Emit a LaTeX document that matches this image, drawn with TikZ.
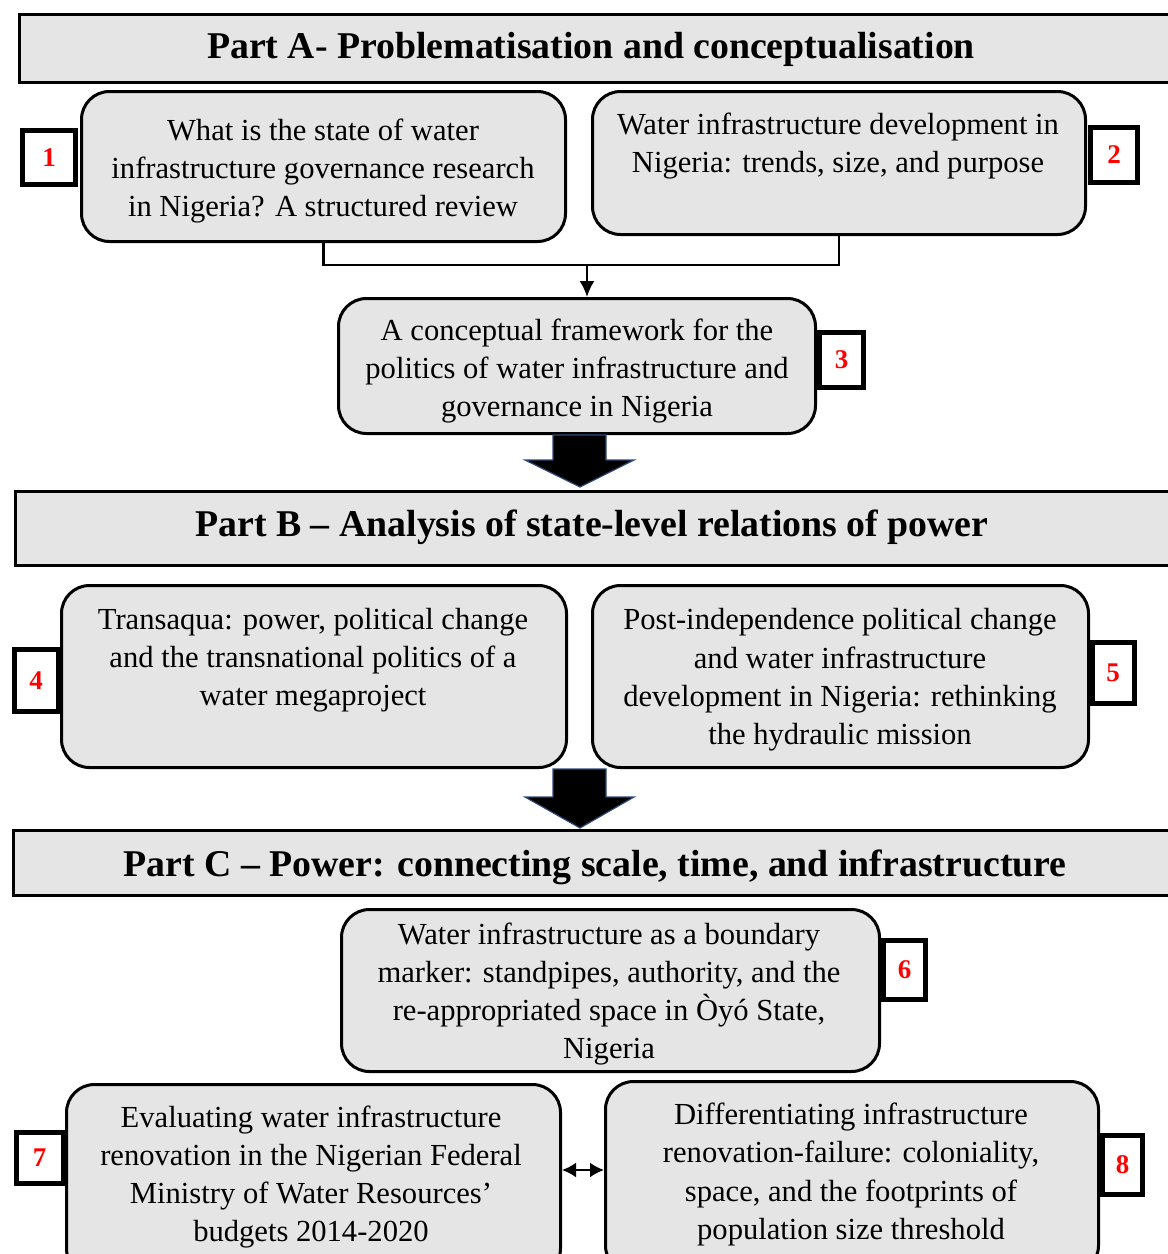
\documentclass[tikz,border=0pt]{standalone}
\usepackage{fontspec}
\setmainfont{Liberation Serif}
\usetikzlibrary{arrows.meta,calc}
\begin{document}
\begin{tikzpicture}[x=1pt,y=-1pt,
  panel/.style={draw=black,line width=3pt,rounded corners=28pt,fill=gray!20,inner sep=0pt},
  header/.style={draw=black,line width=3pt,fill=gray!20},
  htext/.style={font=\fontsize{37.8}{42}\selectfont\bfseries},
  txt/.style={align=center,inner sep=0pt,font=\fontsize{30.6}{38.3}\selectfont},
  numbox/.style={draw=black,line width=5pt,fill=white,inner sep=0pt,
    text=red,font=\fontsize{27}{30}\selectfont\bfseries},
  blockarrow/.style={fill=black,draw={rgb,255:red,47;green,74;blue,122},line width=1.2pt,line join=miter},
  link/.style={line width=2.2pt}
]
\clip (0,0) rectangle (1168,1254);
\fill[white] (0,0) rectangle (1168,1254);

% ---------- Part A ----------
\draw[header] (19.5,14.5) rectangle (1175,82.5);
\node[htext] (hA) at (591,49) {Part A- Problematisation  and  conceptualisation};

\node[panel,minimum width=484pt,minimum height=150pt] (b1) at (323.5,166.5) {};
\node[txt] (t1) at (323,171) {What is the state of water\\infrastructure governance research\\in Nigeria? A structured review};
\node[numbox,minimum width=53pt,minimum height=54pt] (n1) at (49,157.5) {1};

\node[panel,minimum width=493pt,minimum height=143pt] (b2) at (839,163) {};
\node[txt] (t2) at (838,146) {Water infrastructure development in\\Nigeria:  trends, size, and purpose};
\node[numbox,minimum width=47pt,minimum height=55pt] (n2) at (1114,155) {2};

\coordinate (j1) at (323.5,265);
\coordinate (j2) at (587,265);
\draw[link,line join=miter] (b1.south) -- (j1) -| (b2.south);

\node[panel,minimum width=477pt,minimum height=135pt] (b3) at (577,366) {};
\node[txt] (t3) at (577,371) {A conceptual framework  for the\\politics of water infrastructure and\\governance  in Nigeria};
\node[numbox,minimum width=44pt,minimum height=55pt] (n3) at (841.5,360) {3};

\draw[link,-{Latex[length=16pt,width=15pt]}] (j2) -- (j2 |- b3.north);

% ---------- Part B ----------
\draw[header] (15.5,491.5) rectangle (1175,565.5);
\node[htext] (hB) at (592,527) {Part B -- Analysis  of state-level relations of power};

\coordinate (a1) at (580,435);
\draw[blockarrow] ($(a1)+(-27,0)$) -- ($(a1)+(26,0)$) -- ($(a1)+(26,25)$) -- ($(a1)+(54,25)$)
  -- ($(a1)+(0,52)$) -- ($(a1)+(-55,25)$) -- ($(a1)+(-27,25)$) -- cycle;

\node[panel,minimum width=505pt,minimum height=182pt] (b4) at (314,676.5) {};
\node[txt] (t4) at (313,660) {Transaqua: power, political change\\and the transnational politics of a\\water megaproject};
\node[numbox,minimum width=44pt,minimum height=62pt] (n4) at (36,680.5) {4};

\node[panel,minimum width=496pt,minimum height=182pt] (b5) at (840.5,676.5) {};
\node[txt] (t5) at (840,680) {Post-independence political change\\and water infrastructure\\development in Nigeria:  rethinking\\the hydraulic mission};
\node[numbox,minimum width=42pt,minimum height=61pt] (n5) at (1113,673) {5};

% ---------- Part C ----------
\coordinate (a2) at (580,769);
\draw[blockarrow] ($(a2)+(-27,0)$) -- ($(a2)+(26,0)$) -- ($(a2)+(26,28)$) -- ($(a2)+(54,28)$)
  -- ($(a2)+(0,59)$) -- ($(a2)+(-55,28)$) -- ($(a2)+(-27,28)$) -- cycle;

\draw[header] (13.5,830.5) rectangle (1175,895.5);
\node[htext] (hC) at (595,867) {Part C -- Power: connecting scale, time, and infrastructure};

\node[panel,minimum width=538pt,minimum height=162pt] (b6) at (610.5,990.5) {};
\node[txt] (t6) at (609,994) {Water infrastructure as a boundary\\marker:  standpipes, authority, and the\\re-appropriated space in Òyó  State,\\Nigeria};
\node[numbox,minimum width=42pt,minimum height=59pt] (n6) at (904.5,970) {6};

\node[panel,minimum width=494pt,minimum height=192pt] (b7) at (313.5,1180.5) {};
\node[txt] (t7) at (311,1177) {Evaluating water infrastructure\\renovation in the Nigerian  Federal\\Ministry  of Water Resources’\\budgets 2014-2020};
\node[numbox,minimum width=47pt,minimum height=51pt] (n7) at (39.5,1158) {7};

\node[panel,minimum width=493pt,minimum height=192pt] (b8) at (852,1177.5) {};
\node[txt] (t8) at (851,1174.5) {Differentiating  infrastructure\\renovation-failure:  coloniality,\\space, and the footprints of\\population size threshold};
\node[numbox,minimum width=40pt,minimum height=59pt] (n8) at (1122.5,1165) {8};

\coordinate (d7) at (b7.east |- 0,1170);
\draw[link,{Latex[length=14pt,width=15pt]}-{Latex[length=14pt,width=15pt]}] (d7) -- (d7 -| b8.west);
\end{tikzpicture}
\end{document}
